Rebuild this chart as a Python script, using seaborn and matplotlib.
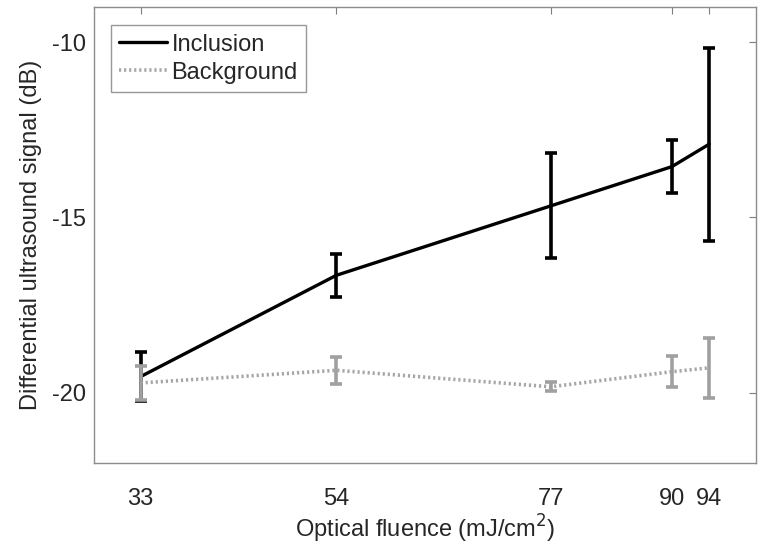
import matplotlib
matplotlib.use("Agg")
import matplotlib.pyplot as plt
import seaborn as sns
import pandas as pd

fluence = [33, 54, 77, 90, 94]
incl_mean = [-19.54, -16.65, -14.67, -13.55, -12.91]
incl_err = [0.69, 0.62, 1.50, 0.75, 2.75]
bg_mean = [-19.72, -19.36, -19.83, -19.40, -19.29]
bg_err = [0.48, 0.38, 0.13, 0.45, 0.85]
xticks = [33, 54, 77, 90, 94]
yticks = [-20, -15, -10]

sns.set_style("white")
plt.rcParams['font.family'] = ['Liberation Sans', 'DejaVu Sans']
plt.rcParams['axes.unicode_minus'] = False

fig = plt.figure(figsize=(7.58, 5.51), dpi=100)
ax = fig.add_axes([0.124, 0.16, 0.873, 0.827])

df_i = pd.DataFrame({"x": fluence, "y": incl_mean})
df_b = pd.DataFrame({"x": fluence, "y": bg_mean})

sns.lineplot(data=df_i, x="x", y="y", ax=ax, color="black", lw=2.4,
             label="Inclusion", zorder=3)
ax.errorbar(fluence, incl_mean, yerr=incl_err, fmt="none", ecolor="black",
            elinewidth=2.6, capsize=4.5, capthick=2.6, zorder=3)
sns.lineplot(data=df_b, x="x", y="y", ax=ax, color="#a6a6a6", lw=2.6,
             linestyle=(0, (0.6, 0.8)), label="Background", zorder=4)
ax.errorbar(fluence, bg_mean, yerr=bg_err, fmt="none", ecolor="#a0a0a0",
            elinewidth=2.6, capsize=4.5, capthick=2.6, zorder=4)

ax.set_xlim(28, 99)
ax.set_ylim(-22, -9)
ax.set_xticks(xticks)
ax.set_yticks(yticks)
ax.tick_params(axis="both", direction="in", length=5, width=0.8, color="#7f7f7f",
               labelsize=17, labelcolor="#262626", top=True, right=True)
ax.tick_params(axis="x", pad=18)
ax.tick_params(axis="y", pad=6)
for s in ax.spines.values():
    s.set_color("#8c8c8c")
    s.set_linewidth(1.0)

ax.set_xlabel("Optical fluence (mJ/cm$^2$)", fontsize=17, color="#262626", labelpad=2)
ax.set_ylabel("Differential ultrasound signal (dB)", fontsize=17, color="#262626", labelpad=7)

leg = ax.legend(loc="upper left", bbox_to_anchor=(0.026, 0.96), fontsize=17,
                frameon=True, fancybox=False, handlelength=2.0, handletextpad=0.2,
                borderpad=0.35, labelspacing=0.25, borderaxespad=0)
leg.get_frame().set_edgecolor("#7f7f7f")
leg.get_frame().set_linewidth(1.0)
for t in leg.get_texts():
    t.set_color("#262626")

fig.savefig("out.png", dpi=100)
